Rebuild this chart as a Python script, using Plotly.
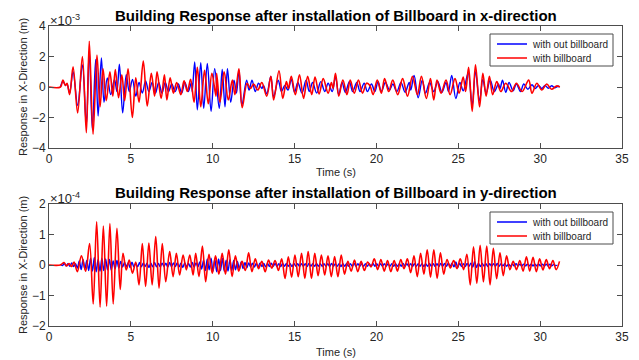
import numpy as np
import plotly.graph_objects as go

# ---------------- data (x-direction, units of 1e-3 m) ----------------
x_red_pts = [(0, 0), (0.7, 0), (0.85, 0.45), (1.0, 0.1), (1.1, 0.25), (1.26, -0.5), (1.47, 1.33), (1.75, -1.7),
             (2.04, 2.0), (2.28, -3.0), (2.46, 3.0), (2.69, -3.1), (2.93, 2.1), (3.12, -1.3), (3.3, 1.2), (3.5, -0.9),
             (3.72, 1.0), (3.9, -0.6), (4.05, 1.15), (4.25, -0.7), (4.45, 0.8), (4.62, -0.9), (4.83, 1.2), (5.09, -2.0),
             (5.3, 0.6), (5.5, -1.0), (5.76, 1.7), (6.0, -1.25), (6.25, 0.9), (6.45, -0.6), (6.6, 1.0), (6.85, -0.75),
             (7.05, 0.8), (7.2, -0.85), (7.4, 0.6), (7.6, -0.4), (7.8, 0.3), (8.05, -0.5), (8.25, 0.4), (8.45, -0.3),
             (8.65, 0.5), (8.86, -1.0), (9.06, 1.3), (9.27, -1.3), (9.5, 1.1), (9.73, -1.1), (9.95, 0.9), (10.2, -0.6),
             (10.24, 0.9), (10.44, -1.0), (10.7, 1.0), (10.95, -0.85), (11.2, 0.45), (11.36, -0.5), (11.6, 1.2),
             (11.8, -1.35), (12.1, 0.25), (12.3, -0.1), (12.5, 0.2), (12.75, -0.2), (13.0, 0.3), (13.3, -0.6),
             (13.55, 0.7), (13.72, -0.85), (14.05, 1.07), (14.28, -0.75), (14.5, 0.35), (14.62, -0.1), (14.8, 0.7),
             (15.05, -0.5), (15.3, 0.8), (15.55, -0.75), (15.8, 0.7), (16.05, -0.5), (16.25, 0.65), (16.5, -0.45),
             (16.75, 0.55), (17.05, -0.4), (17.25, 0.3), (17.35, -0.1), (17.5, 0.9), (17.7, -0.6), (17.95, 0.45),
             (18.2, -0.5), (18.4, 0.45), (18.65, -0.4), (18.9, 0.45), (19.15, -0.4), (19.4, 0.25), (19.6, 0.1),
             (19.8, -0.5), (20.05, 0.45), (20.3, -0.4), (20.5, 0.55), (20.75, -0.3), (21.0, 0.45), (21.3, -0.5),
             (21.6, 0.55), (21.9, -0.6), (22.2, 0.7), (22.5, -0.5), (22.75, 0.7), (23.05, -0.75), (23.3, 0.55),
             (23.5, -0.85), (23.7, 0.45), (23.95, -0.4), (24.25, 0.45), (24.5, -0.5), (24.8, 0.55), (25.05, -0.4),
             (25.3, 0.65), (25.45, -0.3), (25.63, 1.3), (25.85, -1.6), (26.05, 1.45), (26.3, -1.3), (26.5, 0.9),
             (26.7, -0.6), (26.9, 0.7), (27.1, -0.5), (27.35, 0.35), (27.6, -0.3), (27.9, 0.25), (28.25, -0.3),
             (28.55, 0.25), (28.9, -0.3), (29.3, 0.45), (29.5, -0.4), (29.8, 0.25), (30.1, -0.2), (30.4, 0.2),
             (30.7, -0.15), (31.0, 0.07), (31.2, 0.0)]

x_blue_pts = [(0.7, 0), (0.85, 0.4), (1.0, 0.1), (1.1, 0.2), (1.26, -0.4), (1.47, 1.0), (1.75, -1.2), (2.04, 1.45),
              (2.28, -2.5), (2.46, 2.4), (2.65, -2.8), (2.85, 1.8), (3.0, -1.9), (3.2, 1.9), (3.36, -1.0), (3.56, 0.6),
              (3.77, -0.5), (4.0, 0.5), (4.15, -0.3), (4.3, 1.5), (4.5, -1.7), (4.72, 0.8), (4.9, -0.3), (5.1, 0.5),
              (5.3, -0.6), (5.5, 0.3), (5.7, -0.4), (5.9, 0.4), (6.1, -0.3), (6.3, 0.3), (6.5, -0.4), (6.7, 0.3),
              (6.9, -0.4), (7.1, 0.3), (7.3, -0.3), (7.5, 0.2), (7.7, -0.3), (7.9, 0.2), (8.1, -0.4), (8.3, 0.3),
              (8.5, -0.3), (8.7, 0.3), (8.75, -0.3), (8.9, 1.65), (9.06, -1.5), (9.27, 1.6), (9.45, -1.4), (9.67, 1.55),
              (9.9, -1.6), (10.12, 1.2), (10.4, -1.4), (10.58, 1.15), (10.75, -1.3), (10.9, 1.2), (11.1, -1.0),
              (11.3, 0.45), (11.45, -0.4), (11.6, 1.1), (11.78, -1.2), (12.07, 0.45), (12.22, -0.2), (12.4, 0.45),
              (12.6, -0.3), (12.8, 0.25), (13.0, -0.1), (13.1, 0.1), (13.3, -0.45), (13.55, 0.7), (13.72, -0.65),
              (14.0, 0.45), (14.2, -0.3), (14.4, 0.1), (14.6, -0.2), (14.8, 0.5), (15.0, -0.35), (15.2, 0.3),
              (15.45, -0.4), (15.7, 0.45), (15.9, -0.3), (16.1, 0.3), (16.35, -0.4), (16.6, 0.35), (16.85, -0.3),
              (17.05, 0.25), (17.3, -0.3), (17.5, 0.7), (17.7, -0.5), (17.9, 0.3), (18.1, -0.35), (18.35, 0.35),
              (18.55, -0.3), (18.8, 0.3), (19.0, -0.3), (19.25, 0.25), (19.45, -0.3), (19.7, 0.2), (19.9, -0.3),
              (20.1, 0.35), (20.3, -0.3), (20.55, 0.3), (20.8, -0.2), (21.0, 0.2), (21.25, -0.3), (21.5, 0.3),
              (21.75, -0.35), (22.0, 0.3), (22.1, -0.2), (22.3, 0.75), (22.55, -0.7), (22.8, 0.45), (23.0, -0.4),
              (23.25, 0.3), (23.5, -0.3), (23.75, 0.35), (24.0, -0.35), (24.25, 0.3), (24.4, -0.3), (24.6, 0.75),
              (24.85, -0.75), (25.1, 0.3), (25.3, -0.25), (25.6, 0.9), (25.85, -1.2), (26.05, 1.0), (26.3, -0.9),
              (26.5, 0.5), (26.7, -0.4), (26.95, 0.45), (27.2, -0.3), (27.45, 0.2), (27.55, -0.1), (27.7, 0.45),
              (27.9, -0.35), (28.1, 0.3), (28.35, -0.25), (28.55, 0.2), (28.8, -0.3), (29.0, 0.2), (29.25, -0.15),
              (29.5, 0.15), (29.7, -0.1), (29.9, 0.1), (30.1, -0.1), (30.3, 0.1), (30.5, -0.08), (30.7, 0.08),
              (30.9, -0.05), (31.1, 0.05), (31.2, 0.0)]

# ---------------- data (y-direction, units of 1e-4 m) ----------------
y_red_early_pts = [(0, 0), (0.7, 0), (0.92, 0.08), (1.07, -0.03), (1.22, 0.05), (1.38, -0.05), (1.53, 0.1),
                   (1.73, -0.22), (1.98, 0.3), (2.24, -0.2), (2.48, 0.7), (2.7, -1.28), (2.91, 1.42), (3.12, -1.38),
                   (3.32, 1.28), (3.52, -1.35), (3.72, 1.36), (3.92, -1.28), (4.15, 1.2), (4.35, -0.8), (4.52, 0.38),
                   (4.72, -0.16), (4.9, 0.16), (5.1, -0.27), (5.3, 0.1), (5.5, -0.65), (5.7, 0.7), (5.9, -0.7),
                   (6.1, 0.72), (6.3, -0.65), (6.52, 0.93), (6.72, -0.76), (6.92, 0.7), (7.13, -0.55), (7.37, 0.44),
                   (7.58, -0.38), (7.78, 0.38), (7.98, -0.33), (8.19, 0.33), (8.39, -0.16), (8.6, 0.33),
                   (8.8, -0.33), (8.96, 0.38), (9.16, -0.38), (9.37, 0.62), (9.57, -0.55)]
y_red_late_start, y_red_late_step = 9.77, 0.202
y_red_late_vals = [0.35, -0.27, 0.3, -0.3, 0.38, -0.3, 0.5, -0.38, 0.3,
                   -0.2, 0.12, -0.18,
                   0.4, -0.22, 0.2, -0.12,
                   0.12, -0.22, 0.16, -0.1, 0.15, -0.18, 0.2,
                   -0.44, 0.27, -0.4, 0.33, -0.38, 0.38, -0.44, 0.44, -0.44, 0.38, -0.35, 0.33, -0.33, 0.3, -0.38,
                   0.28, -0.38, 0.33,
                   -0.3, 0.12, -0.2, 0.16, -0.22, 0.12, -0.18, 0.1, -0.06,
                   0.2, -0.15, 0.18, -0.2, 0.15, -0.22, 0.15, -0.2, 0.18, -0.12, 0.2, -0.25,
                   0.3, -0.38, 0.38, -0.3, 0.5, -0.4, 0.5, -0.44, 0.4, -0.3,
                   0.18, -0.1, 0.15, -0.12, 0.2, -0.15, 0.35,
                   -0.65, 0.6, -0.6, 0.65, -0.55, 0.62, -0.65, 0.55,
                   -0.45, 0.4, -0.35, 0.3, -0.15, 0.12, -0.15, 0.15, -0.2,
                   0.27, -0.2, 0.25, -0.22, 0.2, -0.16, 0.18, -0.12, 0.15, -0.15, 0.12]

y_blue_start, y_blue_step = 0.7, 0.115
y_blue_vals = [0.03, -0.02, 0.05, -0.03, 0.04, -0.04, 0.07, -0.05, 0.04,
               -0.1, 0.13, -0.15, 0.17, -0.13, 0.15,
               -0.18, 0.22, -0.2, 0.25, -0.22, 0.18, -0.2, 0.22, -0.18, 0.2, -0.16, 0.18, -0.17, 0.13, -0.13, 0.15,
               -0.1, 0.12,
               -0.07, 0.08, -0.05, 0.07, -0.08, 0.09, -0.06, 0.05, -0.06, 0.08, -0.06, 0.07, -0.05, 0.06, -0.08, 0.06,
               -0.06, 0.08, -0.06, 0.05, -0.06, 0.06, -0.05, 0.06, -0.07, 0.08, -0.06, 0.07, -0.05, 0.07, -0.06, 0.06,
               -0.08, 0.07, -0.06, 0.05, -0.07, 0.08, -0.07, 0.07, -0.06, 0.1,
               -0.13, 0.16, -0.18, 0.2, -0.16, 0.22, -0.2, 0.18, -0.22, 0.2, -0.18, 0.22, -0.2, 0.16, -0.2, 0.17,
               -0.18, 0.15, -0.16, 0.12, -0.14, 0.1, -0.12, 0.08, -0.09,
               0.07, -0.06, 0.06, -0.07, 0.05, -0.06, 0.06, -0.05, 0.05, -0.06,
               0.05, -0.05, 0.06, -0.04, 0.05, -0.05, 0.04, -0.05, 0.05, -0.04,
               0.05, -0.04, 0.04, -0.05, 0.05, -0.04, 0.04, -0.05, 0.04, -0.04,
               0.04, -0.05, 0.05, -0.04, 0.04, -0.04, 0.05, -0.04, 0.04, -0.04,
               0.04, -0.04, 0.04, -0.05, 0.05, -0.04, 0.04, -0.04, 0.04, -0.05,
               0.04, -0.04, 0.05, -0.04, 0.04, -0.04, 0.05, -0.04, 0.04, -0.04,
               0.04, -0.04, 0.04, -0.04, 0.04, -0.04, 0.05, -0.04, 0.04, -0.04,
               0.04, -0.04, 0.04, -0.04, 0.04, -0.04, 0.04, -0.04, 0.04, -0.04,
               0.04, -0.04, 0.05, -0.04, 0.04, -0.04, 0.04, -0.05, 0.04, -0.04,
               0.04, -0.04, 0.04, -0.05, 0.04, -0.04, 0.05, -0.04, 0.04, -0.05,
               0.04, -0.05, 0.05, -0.04, 0.05, -0.04, 0.06, -0.05, 0.06, -0.06,
               0.1, -0.08, 0.06, -0.05, 0.04, -0.05, 0.05, -0.04, 0.06, -0.07,
               0.12, -0.08, 0.06, -0.05, 0.05, -0.04, 0.04, -0.05, 0.04, -0.04,
               0.04, -0.04, 0.05, -0.04, 0.04, -0.03, 0.04, -0.04, 0.03, -0.04,
               0.03, -0.03, 0.04, -0.03, 0.03, -0.04, 0.03, -0.03, 0.03, -0.03,
               0.03, -0.03, 0.03, -0.03, 0.03, -0.03, 0.03, -0.03, 0.03, -0.03,
               0.03, -0.03, 0.02, -0.02, 0.0]

x_ticks = [0, 5, 10, 15, 20, 25, 30, 35]
y_ticks_top = [-4, -2, 0, 2, 4]
y_ticks_bot = [-2, -1, 0, 1, 2]
legend_names = ["with out billboard", "with billboard"]
titles = ["Building Response after installation of Billboard in x-direction",
          "Building Response after installation of Billboard in y-direction"]

# ---------------- assemble ----------------
xr_t, xr_v = zip(*x_red_pts)
xb_t, xb_v = zip(*x_blue_pts)
ye_t, ye_v = zip(*y_red_early_pts)
yl_t = y_red_late_start + np.arange(len(y_red_late_vals)) * y_red_late_step
yr_t = list(ye_t) + list(np.round(yl_t, 3))
yr_v = list(ye_v) + y_red_late_vals
yb_t = np.round(y_blue_start + np.arange(len(y_blue_vals)) * y_blue_step, 3)

BLUE = "#0000FF"
RED = "#FF0000"
FONT = "Liberation Sans, Arial, sans-serif"
OFF = 8                     # page body margin of the browser
W, H = 639 - OFF, 360 - OFF


def px(xp, yp):
    """window pixel -> paper coordinates"""
    return (xp - OFF) / W, 1 - (yp - OFF) / H


fig = go.Figure()
fig.add_trace(go.Scatter(x=xb_t, y=xb_v, mode="lines", name=legend_names[0],
                         line=dict(color=BLUE, width=1.4, shape="spline"), xaxis="x", yaxis="y"))
fig.add_trace(go.Scatter(x=xr_t, y=xr_v, mode="lines", name=legend_names[1],
                         line=dict(color=RED, width=1.6, shape="spline"), xaxis="x", yaxis="y"))
fig.add_trace(go.Scatter(x=yb_t, y=y_blue_vals, mode="lines", name=legend_names[0],
                         line=dict(color=BLUE, width=1.4, shape="spline"), xaxis="x2", yaxis="y2"))
fig.add_trace(go.Scatter(x=yr_t, y=yr_v, mode="lines", name=legend_names[1],
                         line=dict(color=RED, width=1.6, shape="spline"), xaxis="x2", yaxis="y2"))

xdom = [px(49, 0)[0], px(622, 0)[0]]
top_dom = [px(0, 148)[1], px(0, 26)[1]]
bot_dom = [px(0, 326)[1], px(0, 204)[1]]

axis_common = dict(showgrid=False, zeroline=False, showline=True, linecolor="#4d4d4d", linewidth=1,
                   mirror="ticks", ticks="inside", ticklen=5, tickcolor="#4d4d4d", automargin=False,
                   tickfont=dict(family=FONT, size=12, color="#262626"))

fig.update_layout(
    width=W, height=H, margin=dict(l=0, r=0, t=0, b=0),
    paper_bgcolor="white", plot_bgcolor="white",
    showlegend=False,
    xaxis=dict(domain=xdom, range=[0, 35], tickvals=x_ticks, anchor="y", **axis_common),
    yaxis=dict(domain=top_dom, range=[-4, 4], tickvals=y_ticks_top, anchor="x", **axis_common),
    xaxis2=dict(domain=xdom, range=[0, 35], tickvals=x_ticks, anchor="y2", **axis_common),
    yaxis2=dict(domain=bot_dom, range=[-2, 2], tickvals=y_ticks_bot, anchor="x2", **axis_common),
)

ann = []
shapes = []
xc = px((49 + 622) / 2, 0)[0]

for i, (ttl_y, xl_y, exp_y, exp_txt, mid_y, leg_top) in enumerate([
        (15, 172, 20, "×10<sup>-3</sup>", (26 + 148) / 2, 34),
        (193, 352, 198, "×10<sup>-4</sup>", (204 + 326) / 2, 212)]):
    ann.append(dict(text="<b>" + titles[i] + "</b>", x=xc, y=px(0, ttl_y)[1], xref="paper", yref="paper",
                    showarrow=False, xanchor="center", yanchor="middle",
                    font=dict(family=FONT, size=15, color="#000000")))
    ann.append(dict(text="Time (s)", x=xc, y=px(0, xl_y)[1], xref="paper", yref="paper",
                    showarrow=False, xanchor="center", yanchor="middle",
                    font=dict(family=FONT, size=11, color="#262626")))
    ann.append(dict(text=exp_txt, x=px(48, 0)[0], y=px(0, exp_y)[1], xref="paper", yref="paper",
                    showarrow=False, xanchor="left", yanchor="middle",
                    font=dict(family=FONT, size=13, color="#262626")))
    ann.append(dict(text="Response in X-Direction (m)", x=px(23, 0)[0], y=px(0, mid_y)[1],
                    xref="paper", yref="paper",
                    showarrow=False, xanchor="center", yanchor="middle", textangle=-90,
                    font=dict(family=FONT, size=11, color="#262626")))
    # legend box (drawn like the MATLAB legend)
    x0, y0 = px(490, leg_top)
    x1, y1 = px(613, leg_top + 32)
    shapes.append(dict(type="rect", xref="paper", yref="paper", x0=x0, x1=x1, y0=y1, y1=y0,
                       line=dict(color="#4d4d4d", width=1), fillcolor="white", layer="above"))
    for j, (col, name) in enumerate([(BLUE, legend_names[0]), (RED, legend_names[1])]):
        ly = leg_top + 10 + j * 14
        lx0, lyy = px(497, ly)
        lx1, _ = px(527, ly)
        shapes.append(dict(type="line", xref="paper", yref="paper", x0=lx0, x1=lx1, y0=lyy, y1=lyy,
                           line=dict(color=col, width=1.5), layer="above"))
        tx, _ = px(530, ly)
        ann.append(dict(text=name, x=tx, y=lyy, xref="paper", yref="paper", showarrow=False,
                        xanchor="left", yanchor="middle",
                        font=dict(family=FONT, size=10, color="#262626")))

fig.update_layout(annotations=ann, shapes=shapes)

fig.write_html("out.html")
